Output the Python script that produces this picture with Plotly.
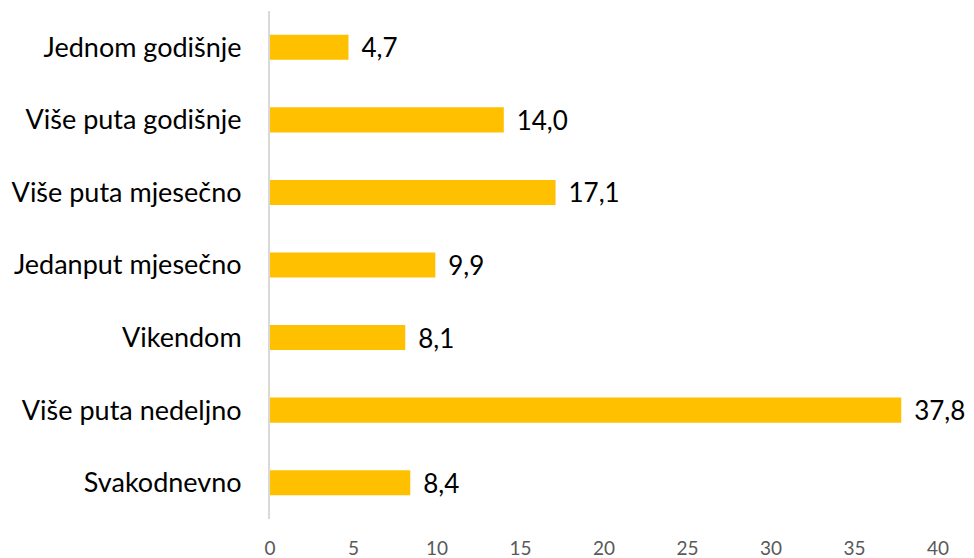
import plotly.graph_objects as go

categories = [
    "Jednom godišnje",
    "Više puta godišnje",
    "Više puta mjesečno",
    "Jedanput mjesečno",
    "Vikendom",
    "Više puta nedeljno",
    "Svakodnevno",
]
values = [4.7, 14.0, 17.1, 9.9, 8.1, 37.8, 8.4]
x_ticks = [0, 5, 10, 15, 20, 25, 30, 35, 40]

labels = ["\u00a0\u2009" + f"{v:.1f}".replace(".", ",") for v in values]

fig = go.Figure()

fig.add_trace(
    go.Bar(
        x=values,
        y=categories,
        orientation="h",
        width=0.345,
        marker=dict(color="#FFC000", line=dict(width=0)),
        text=labels,
        textposition="outside",
        constraintext="none",
        textfont=dict(size=26, color="#000000"),
        cliponaxis=False,
    )
)

# the page body has an 8px margin, so the figure is drawn 8px smaller
fig.update_layout(
    width=966,
    height=550,
    margin=dict(l=262, r=36, t=3, b=39),
    paper_bgcolor="white",
    plot_bgcolor="white",
    font=dict(family="Lato, Open Sans, sans-serif"),
    showlegend=False,
    bargap=0.6,
)

fig.update_xaxes(
    range=[0, 40],
    tickvals=x_ticks,
    showgrid=False,
    zeroline=False,
    showline=False,
    automargin=False,
    tickfont=dict(size=19, color="#595959"),
    ticklabelstandoff=16,
)

fig.update_yaxes(
    categoryorder="array",
    categoryarray=categories[::-1],
    showgrid=False,
    zeroline=False,
    showline=True,
    automargin=False,
    linecolor="#D9D9D9",
    linewidth=2,
    tickfont=dict(size=27, color="#000000"),
    ticklabelstandoff=21,
)

fig.write_html("out.html")
